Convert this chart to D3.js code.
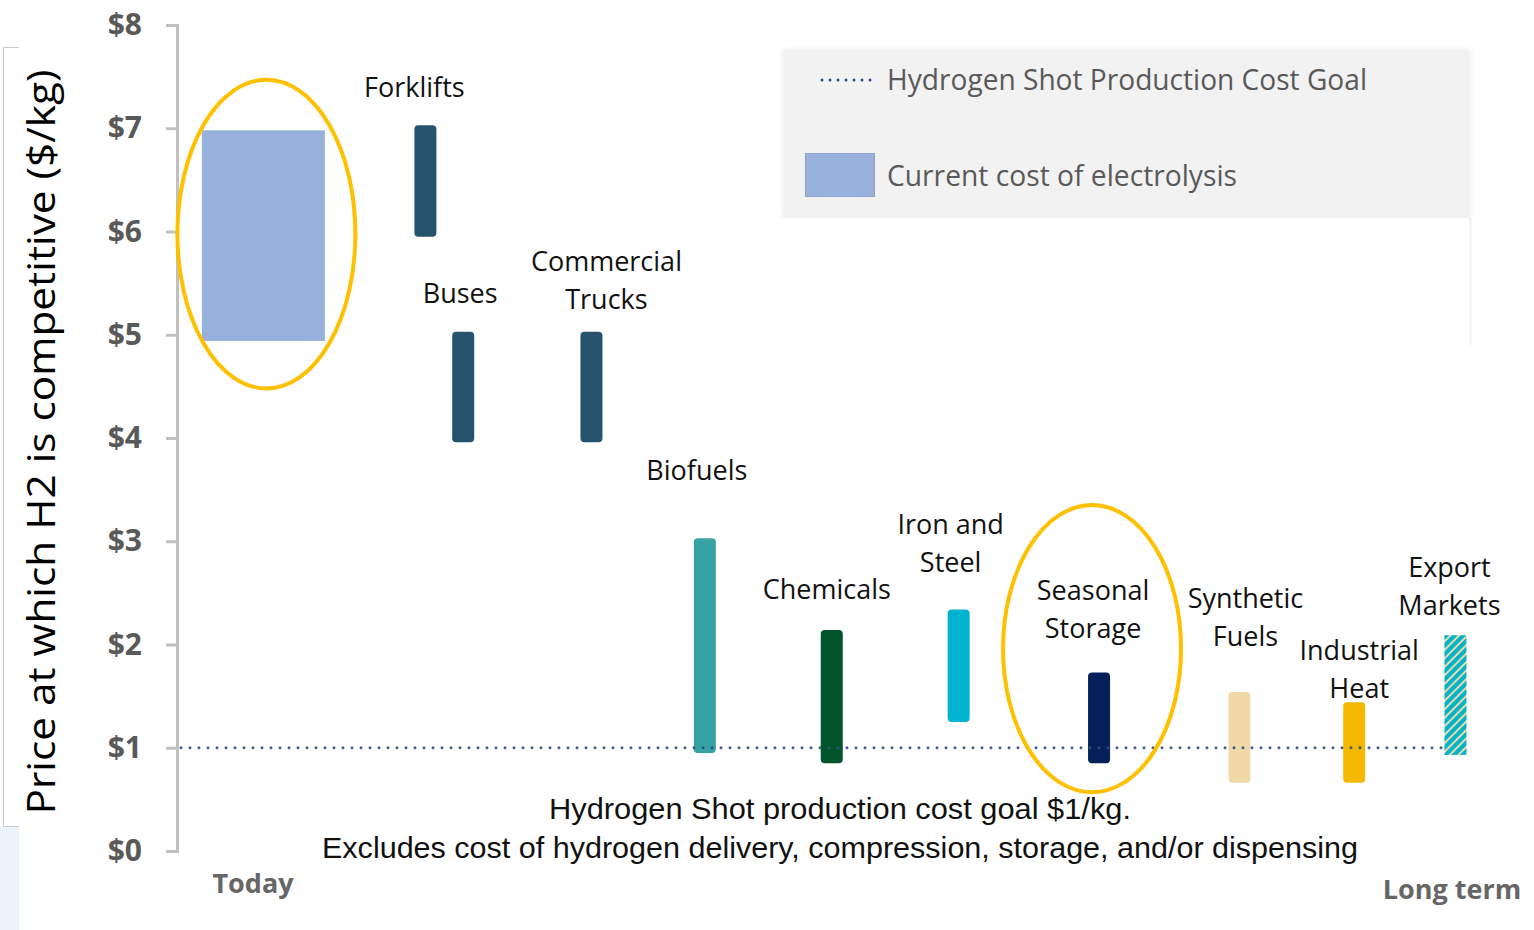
<!DOCTYPE html>
<html>
<head>
<meta charset="utf-8">
<script src="https://cdn.jsdelivr.net/npm/d3@7"></script>
<style>
  html, body { margin: 0; padding: 0; background: #ffffff; }
  svg { display: block; }
</style>
</head>
<body>
<svg id="chart" width="1534" height="930"></svg>
<script>
// ---------------- DATA ----------------
const yTickValues = [0, 1, 2, 3, 4, 5, 6, 7, 8];
const yTickLabels = ["$0", "$1", "$2", "$3", "$4", "$5", "$6", "$7", "$8"];

// Current cost of electrolysis (today), $/kg
const electrolysisLow = 4.94;
const electrolysisHigh = 6.98;

// Sector ranges at which H2 becomes competitive, $/kg
const sectors = ["Forklifts", "Buses", "Commercial Trucks", "Biofuels", "Chemicals",
  "Iron and Steel", "Seasonal Storage", "Synthetic Fuels", "Industrial Heat", "Export Markets"];
const sectorLow  = [5.95, 3.96, 3.96, 0.95, 0.85, 1.25, 0.85, 0.66, 0.66, 0.93];
const sectorHigh = [7.03, 5.03, 5.03, 3.03, 2.14, 2.34, 1.73, 1.54, 1.44, 2.09];
// position along the timeline (0 = today ... 100 = long term)
const timelineToday = 6.4;
const sectorTimeline = [18.4, 21.2, 30.7, 39.1, 48.5, 57.9, 68.3, 78.7, 87.2, 94.7];
const sectorLabelLines = [["Forklifts"], ["Buses"], ["Commercial", "Trucks"], ["Biofuels"], ["Chemicals"],
  ["Iron and", "Steel"], ["Seasonal", "Storage"], ["Synthetic", "Fuels"], ["Industrial", "Heat"], ["Export", "Markets"]];

const goalValue = 1;
const legendLabels = ["Hydrogen Shot Production Cost Goal", "Current cost of electrolysis"];
const noteLines = ["Hydrogen Shot production cost goal $1/kg.",
  "Excludes cost of hydrogen delivery, compression, storage, and/or dispensing"];
const yTitle = "Price at which H2 is competitive ($/kg)";
const xEndLabels = ["Today", "Long term"];

// highlighted ranges (ellipses), in $/kg
const highlightToday = [4.48, 7.47];
const highlightStorage = [0.57, 3.35];

// ---------------- STYLE / LAYOUT ----------------
const sectorColors = ["#25536d", "#25536d", "#25536d", "#36a2a3", "#02552b",
  "#00b4d0", "#051f58", "#f1d9a7", "#f4b800", "url(#hatch)"];
// label offsets: dx from bar centre, dy of last line centre from bar top (px)
const labelDx = [-11, -3, 15, -8, -5, -8, -6, 6, 5, -6];
const labelDy = [-38, -38, -32, -68, -40, -47, -44, -55, -14, -30];
const lineH = 38;

const svg = d3.select("#chart");

const y = d3.scaleLinear().domain([0, 8]).range([851, 25]);
const x = d3.scaleLinear().domain([0, 100]).range([177, 1527]);

const defs = svg.append("defs");
const pat = defs.append("pattern").attr("id", "hatch").attr("patternUnits", "userSpaceOnUse")
  .attr("width", 6).attr("height", 6).attr("patternTransform", "rotate(45)");
pat.append("rect").attr("width", 6).attr("height", 6).attr("fill", "#00b4cc");
pat.append("rect").attr("x", 4).attr("width", 2).attr("height", 6).attr("fill", "#ecd8a8");

const dotPat = defs.append("pattern").attr("id", "dotfill").attr("patternUnits", "userSpaceOnUse")
  .attr("width", 4).attr("height", 4);
dotPat.append("rect").attr("width", 4).attr("height", 4).attr("fill", "#98b1dd");
dotPat.append("rect").attr("x", 1).attr("y", 1).attr("width", 1).attr("height", 1).attr("fill", "#91aad8");

const shadow = defs.append("filter").attr("id", "shadow").attr("x", "-5%").attr("y", "-10%")
  .attr("width", "110%").attr("height", "120%");
shadow.append("feDropShadow").attr("dx", 1).attr("dy", 0).attr("stdDeviation", 3)
  .attr("flood-color", "#000").attr("flood-opacity", 0.10);

// background decorations (slide frame at left)
svg.append("rect").attr("x", 0).attr("y", 826).attr("width", 19).attr("height", 104).attr("fill", "#edf3fb");
svg.append("path").attr("d", "M19,47.5H3.5V826.5H19").attr("fill", "none").attr("stroke", "#c9c9c9").attr("stroke-width", 1);

// legend panel
svg.append("rect").attr("x", 783).attr("y", 50).attr("width", 685).attr("height", 168)
  .attr("fill", "#f2f2f2").attr("filter", "url(#shadow)");
svg.append("rect").attr("x", 775).attr("y", 218).attr("width", 693).attr("height", 130).attr("fill", "#ffffff");
svg.append("line").attr("x1", 1470.5).attr("x2", 1470.5).attr("y1", 218).attr("y2", 345)
  .attr("stroke", "#f0f0f0").attr("stroke-width", 2);
svg.append("line").attr("x1", 822).attr("x2", 878).attr("y1", 80).attr("y2", 80)
  .attr("stroke", "#2c4a8c").attr("stroke-width", 3).attr("stroke-linecap", "round").attr("stroke-dasharray", "0 8");
svg.append("rect").attr("x", 805.5).attr("y", 153.5).attr("width", 69).attr("height", 43)
  .attr("fill", "url(#dotfill)").attr("stroke", "#8ea3cc").attr("stroke-width", 1);
const legendY = [80, 176], legendW = [480, 350];
legendLabels.forEach((t, i) => {
  svg.append("text").attr("x", 887).attr("y", legendY[i]).attr("dy", "0.35em")
    .attr("font-family", "'Open Sans', sans-serif").attr("font-size", 29).attr("fill", "#595959")
    .attr("textLength", legendW[i]).attr("lengthAdjust", "spacingAndGlyphs").text(t);
});

// y axis
const axis = d3.axisLeft(y).tickValues(yTickValues).tickFormat((d, i) => yTickLabels[i])
  .tickSize(11).tickPadding(24);
const gAxis = svg.append("g").attr("transform", "translate(177,0)").call(axis);
gAxis.select(".domain").attr("stroke", "#c0c0c0").attr("stroke-width", 3);
gAxis.selectAll(".tick line").attr("stroke", "#c0c0c0").attr("stroke-width", 3);
gAxis.selectAll(".tick text").attr("font-family", "'Open Sans', sans-serif").attr("font-size", 30)
  .attr("font-weight", 700).attr("fill", "#595959");

// y title
svg.append("text").attr("transform", "translate(42,442) rotate(-90)").attr("text-anchor", "middle")
  .attr("dy", "0.35em").attr("font-family", "'Open Sans', sans-serif").attr("font-size", 38)
  .attr("fill", "#000").attr("textLength", 745).attr("lengthAdjust", "spacingAndGlyphs").text(yTitle);

// today electrolysis block
const todayW = 123;
svg.append("rect").attr("x", x(timelineToday) - todayW / 2).attr("y", y(electrolysisHigh))
  .attr("width", todayW).attr("height", y(electrolysisLow) - y(electrolysisHigh)).attr("fill", "url(#dotfill)");

// sector bars
const barW = 22;
sectors.forEach((s, i) => {
  const cx = x(sectorTimeline[i]);
  const isHatch = i === sectors.length - 1;
  svg.append("rect").attr("x", cx - barW / 2).attr("y", y(sectorHigh[i]))
    .attr("width", barW).attr("height", y(sectorLow[i]) - y(sectorHigh[i]))
    .attr("rx", isHatch ? 0 : 4).attr("fill", sectorColors[i]);
});

// goal line
svg.append("line").attr("x1", 181).attr("x2", x(sectorTimeline[sectorTimeline.length - 1]) - barW / 2)
  .attr("y1", y(goalValue)).attr("y2", y(goalValue))
  .attr("stroke", "#2c4a8c").attr("stroke-width", 3).attr("stroke-linecap", "round")
  .attr("stroke-dasharray", "0 9").attr("opacity", 0.9);

// sector labels
sectors.forEach((s, i) => {
  const cx = x(sectorTimeline[i]) + labelDx[i];
  const lines = sectorLabelLines[i];
  const lastY = y(sectorHigh[i]) + labelDy[i];
  lines.forEach((ln, j) => {
    svg.append("text").attr("x", cx).attr("y", lastY - (lines.length - 1 - j) * lineH)
      .attr("dy", "0.35em").attr("text-anchor", "middle")
      .attr("font-family", "'Open Sans', sans-serif").attr("font-size", 27).attr("fill", "#111")
      .text(ln);
  });
});

// highlight ellipses
function ellipse(cx, range, rx) {
  svg.append("ellipse").attr("cx", cx).attr("cy", (y(range[0]) + y(range[1])) / 2)
    .attr("rx", rx).attr("ry", (y(range[0]) - y(range[1])) / 2)
    .attr("fill", "none").attr("stroke", "#ffc000").attr("stroke-width", 4);
}
ellipse(x(timelineToday) + 3, highlightToday, 89);
ellipse(x(sectorTimeline[6]) - 7, highlightStorage, 89);

// note
const noteY = [809, 848], noteW = [582, 1036];
noteLines.forEach((t, i) => {
  svg.append("text").attr("x", 840).attr("y", noteY[i]).attr("dy", "0.35em").attr("text-anchor", "middle")
    .attr("font-family", "'Liberation Sans', Arial, sans-serif").attr("font-size", 29).attr("fill", "#111")
    .attr("textLength", noteW[i]).attr("lengthAdjust", "spacingAndGlyphs").text(t);
});

// x end labels
svg.append("text").attr("x", 253).attr("y", 884).attr("dy", "0.35em").attr("text-anchor", "middle")
  .attr("font-family", "'Open Sans', sans-serif").attr("font-size", 27).attr("font-weight", 700)
  .attr("fill", "#666").text(xEndLabels[0]);
svg.append("text").attr("x", 1452).attr("y", 890).attr("dy", "0.35em").attr("text-anchor", "middle")
  .attr("font-family", "'Open Sans', sans-serif").attr("font-size", 27).attr("font-weight", 700)
  .attr("fill", "#666").text(xEndLabels[1]);
</script>
</body>
</html>
